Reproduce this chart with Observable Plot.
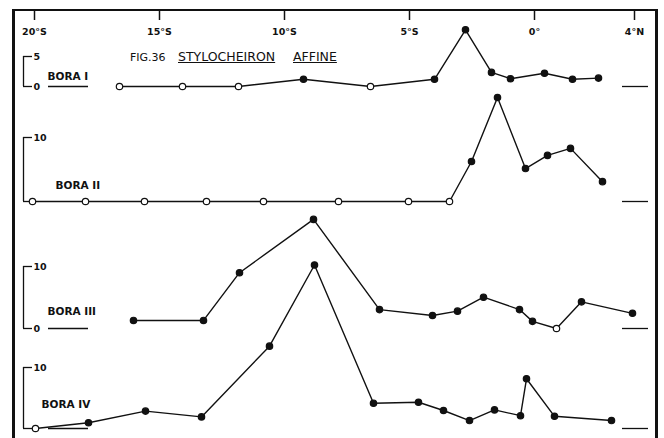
<!DOCTYPE html>
<html>
<head>
<meta charset="utf-8">
<script src="https://cdn.jsdelivr.net/npm/d3@7"></script>
<script src="https://cdn.jsdelivr.net/npm/@observablehq/plot@0.6"></script>
<style>
  html, body { margin: 0; padding: 0; background: #fff; }
  #wrap { position: relative; width: 664px; height: 438px; background: #fff; overflow: hidden; font-family: "DejaVu Sans", sans-serif; }
  #wrap svg { position: absolute; left: 0; top: 0; }
  #border { position: absolute; left: 12px; top: 9px; width: 640px; height: 440px;
            border-left: 3px solid #111; border-top: 2px solid #111; border-right: 3px solid #111; }
  .title { position: absolute; color: #111; white-space: nowrap; font-family: "DejaVu Sans", sans-serif; }
</style>
</head>
<body>
<div id="wrap">
  <div id="border"></div>
  <div class="title" style="left:130px;top:51px;font-size:11px;">FIG.36</div>
  <div class="title" style="left:178px;top:49px;font-size:12.5px;text-decoration:underline;">STYLOCHEIRON</div>
  <div class="title" style="left:293px;top:49px;font-size:12.5px;text-decoration:underline;">AFFINE</div>
</div>
<script>
// ---- data (latitude: negative = °S, positive = °N) ----
const tickValues = [-20, -15, -10, -5, 0, 4];
const tickLabels = ["20°S", "15°S", "10°S", "5°S", "0°", "4°N"];

const boraNames = ["BORA I", "BORA II", "BORA III", "BORA IV"];

const lat1 = [-16.6, -14.08, -11.84, -9.24, -6.56, -4.0, -2.76, -1.72, -0.96, 0.4, 1.52, 2.56];
const val1 = [0, 0, 0, 1.2, 0, 1.2, 9.45, 2.35, 1.3, 2.2, 1.2, 1.4];

const lat2 = [-20.08, -17.96, -15.6, -13.12, -10.84, -7.84, -5.04, -3.4, -2.52, -1.48, -0.36, 0.52, 1.44, 2.72];
const val2 = [0, 0, 0, 0, 0, 0, 0, 0, 6.25, 16.25, 5.15, 7.2, 8.3, 3.1];

const lat3 = [-16.04, -13.24, -11.8, -8.84, -6.2, -4.08, -3.08, -2.04, -0.6, -0.08, 0.88, 1.88, 3.92];
const val3 = [1.3, 1.3, 9.0, 17.6, 3.05, 2.1, 2.8, 5.05, 3.05, 1.15, 0, 4.3, 2.45];

const lat4 = [-19.96, -17.84, -15.56, -13.32, -10.6, -8.8, -6.44, -4.64, -3.64, -2.6, -1.6, -0.56, -0.32, 0.8, 3.08];
const val4 = [0, 0.95, 2.85, 1.9, 13.5, 26.8, 4.15, 4.3, 2.95, 1.3, 3.05, 2.1, 8.15, 2.0, 1.3];

const scaleTop = [5, 10, 10, 10];
const scaleLabels = [[0, 5], [10], [0, 10], [10]];

// ---- layout ----
const W = 664, H = 438;
const ink = "#111";
const font = "'DejaVu Sans', sans-serif";
const xScale = {domain: [-20, 4], range: [34, 634]};
const layout = [
  {base: 86,  ppu: 6.0, name: [47, 72],  leftZero: true},
  {base: 201, ppu: 6.4, name: [55, 181], leftZero: false},
  {base: 328, ppu: 6.2, name: [47, 307], leftZero: true},
  {base: 428, ppu: 6.1, name: [41, 400], leftZero: true}
];

const wrap = document.getElementById("wrap");

// top axis
wrap.appendChild(Plot.plot({
  width: W, height: 42, marginTop: 0, marginBottom: 32, marginLeft: 0, marginRight: 0,
  style: {background: "none", overflow: "visible", fontFamily: font},
  x: xScale,
  marks: [
    Plot.axisX({anchor: "bottom", ticks: tickValues, tickSize: 10, tickPadding: 8,
      tickFormat: d => tickLabels[tickValues.indexOf(d)],
      fontSize: 9.5, fontWeight: "bold", fill: ink, stroke: ink, strokeWidth: 1.5})
  ]
}));

const lats = [lat1, lat2, lat3, lat4];
const vals = [val1, val2, val3, val4];

lats.forEach((lat, p) => {
  const L = layout[p];
  const top = scaleTop[p];
  const data = lat.map((x, i) => ({x, y: vals[p][i]}));
  const marks = [
    // scale bracket
    Plot.ruleX([-20], {y1: 0, y2: top, dx: -11, stroke: ink, strokeWidth: 1.3}),
    Plot.ruleY([top], {insetLeft: 23, insetRight: W - 32, stroke: ink, strokeWidth: 1.3}),
    Plot.ruleY([0], {insetLeft: 23, insetRight: W - 32, stroke: ink, strokeWidth: 1.3}),
    Plot.text(scaleLabels[p], {x: -20, y: d => d, text: d => String(d), dx: -1,
      textAnchor: "start", fontSize: 9.5, fontWeight: "bold", fill: ink}),
    // zero reference segments
    Plot.ruleY([0], {insetLeft: 622, insetRight: W - 648, stroke: ink, strokeWidth: 1.3}),
    // series
    Plot.line(data, {x: "x", y: "y", stroke: ink, strokeWidth: 1.4}),
    Plot.dot(data, {x: "x", y: "y", r: 3.2, stroke: ink, strokeWidth: 1.2,
      fill: d => d.y === 0 ? "white" : ink}),
    Plot.text([boraNames[p]], {frameAnchor: "top-left", dx: L.name[0], dy: L.name[1],
      textAnchor: "start", fontSize: 10.5, fontWeight: "bold", fill: ink})
  ];
  if (L.leftZero) {
    marks.splice(4, 0, Plot.ruleY([0], {insetLeft: 48, insetRight: W - 88, stroke: ink, strokeWidth: 1.3}));
  }
  wrap.appendChild(Plot.plot({
    width: W, height: H, margin: 0,
    style: {background: "none", overflow: "visible", fontFamily: font},
    x: {...xScale, axis: null},
    y: {domain: [0, top], range: [L.base, L.base - top * L.ppu], axis: null},
    color: {type: "identity"},
    marks
  }));
});
</script>
</body>
</html>
